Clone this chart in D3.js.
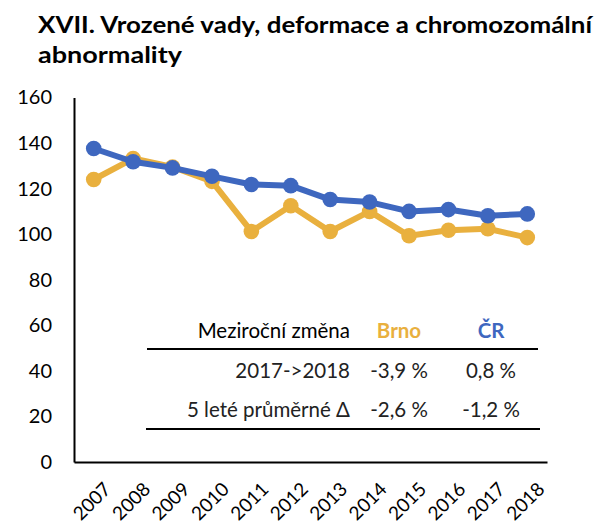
<!DOCTYPE html>
<html><head><meta charset="utf-8">
<script src="https://cdn.jsdelivr.net/npm/d3@7"></script>
<style>body{margin:0;background:#fff}svg{display:block}text{font-family:Lato,"Open Sans",sans-serif}</style>
</head><body>
<script>
const years = ["2007","2008","2009","2010","2011","2012","2013","2014","2015","2016","2017","2018"];
const brno = [124.0,133.2,129.5,123.2,101.2,112.5,101.2,110.0,99.3,101.7,102.4,98.5];
const cr   = [137.6,131.8,129.1,125.4,121.8,121.3,115.2,114.1,110.0,110.8,108.1,108.9];
const yTicks = [0,20,40,60,80,100,120,140,160];
const tableHeader = ["Meziroční změna","Brno","ČR"];
const tableRows = [["2017->2018","-3,9 %","0,8 %"],["5 leté průměrné Δ","-2,6 %","-1,2 %"]];
const titleLines = ["XVII. Vrozené vady, deformace a chromozomální","abnormality"];

const W=605,H=528;
const cBrno="#E9B03E", cCR="#3E67BF";
const svg=d3.select("body").append("svg").attr("width",W).attr("height",H);

const titleW=[554,144];
svg.append("g").selectAll("text").data(titleLines).join("text")
  .attr("x",38).attr("y",(d,i)=>33+i*30)
  .attr("font-size",23.5).attr("font-weight","bold").attr("fill","#000")
  .attr("textLength",(d,i)=>titleW[i]).attr("lengthAdjust","spacingAndGlyphs").text(d=>d);

const x=d3.scaleBand().domain(years).range([74,547]);
const y=d3.scaleLinear().domain([0,160]).range([462,97.5]);

// y axis
const ya=svg.append("g").attr("transform","translate(74,0)")
  .call(d3.axisLeft(y).tickValues(yTicks).tickSize(0).tickPadding(22));
ya.select(".domain").attr("stroke","#000").attr("stroke-width",2);
ya.selectAll("text").attr("font-size",20).attr("fill","#000").style("font-family","Lato");

// x axis
const xa=svg.append("g").attr("transform","translate(0,462)")
  .call(d3.axisBottom(x).tickSize(0).tickFormat(""));
xa.select(".domain").attr("stroke","#000").attr("stroke-width",2);
svg.append("g").selectAll("text").data(years).join("text")
  .attr("transform",d=>`translate(${x(d)+x.bandwidth()/2+9},${481}) rotate(-45)`)
  .attr("text-anchor","end").attr("dy","0.7em")
  .attr("font-size",19).attr("fill","#000").text(d=>d);

// lines
const line=d3.line().x((d,i)=>x(years[i])+x.bandwidth()/2).y(d=>y(d));
function series(vals,color){
  svg.append("path").datum(vals).attr("d",line).attr("fill","none")
    .attr("stroke",color).attr("stroke-width",6).attr("stroke-linejoin","round");
  svg.append("g").selectAll("circle").data(vals).join("circle")
    .attr("cx",(d,i)=>x(years[i])+x.bandwidth()/2).attr("cy",d=>y(d))
    .attr("r",7.8).attr("fill",color);
}
series(brno,cBrno);
series(cr,cCR);

// table
const colX=[350,399,491];
const anchors=["end","middle","middle"];
const hdr=svg.append("g");
hdr.selectAll("text").data(tableHeader).join("text")
  .attr("x",(d,i)=>colX[i]).attr("y",338).attr("text-anchor",(d,i)=>anchors[i])
  .attr("font-size",20.5).attr("font-weight",(d,i)=>i>0?"bold":"normal")
  .attr("fill",(d,i)=>i===0?"#000":(i===1?cBrno:cCR)).text(d=>d);
svg.append("line").attr("x1",147).attr("x2",538).attr("y1",349).attr("y2",349).attr("stroke","#000").attr("stroke-width",2);
tableRows.forEach((row,r)=>{
  svg.append("g").selectAll("text").data(row).join("text")
    .attr("x",(d,i)=>colX[i]).attr("y",378+r*39).attr("text-anchor",(d,i)=>anchors[i])
    .attr("font-size",20.5).attr("fill","#222").text(d=>d);
});
svg.append("line").attr("x1",146).attr("x2",540).attr("y1",429).attr("y2",429).attr("stroke","#000").attr("stroke-width",2);
</script>
</body></html>
